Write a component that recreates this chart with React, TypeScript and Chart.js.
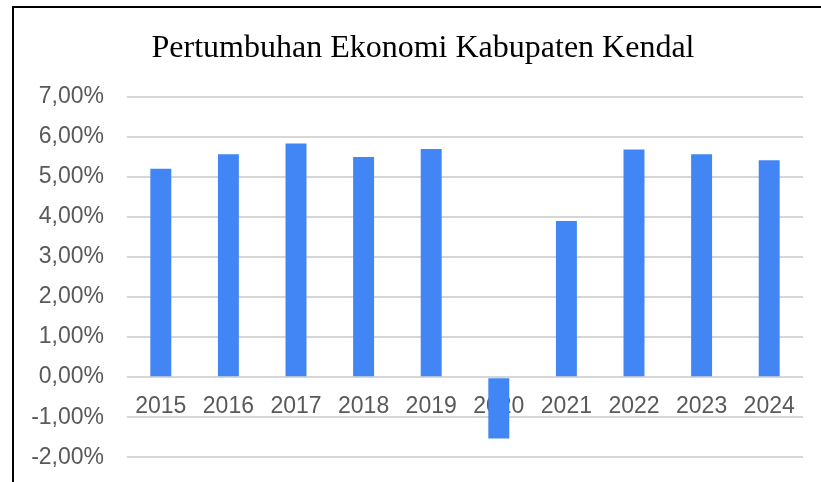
import React, { useEffect, useRef } from "react";
import { Chart, registerables } from "chart.js";

Chart.register(...registerables);

const categories = ["2015", "2016", "2017", "2018", "2019", "2020", "2021", "2022", "2023", "2024"];
const growthValues = [5.21, 5.57, 5.84, 5.5, 5.7, -1.53, 3.9, 5.69, 5.57, 5.42];
const chartTitle = "Pertumbuhan Ekonomi Kabupaten Kendal";
const yMin = -2;
const yMax = 7;
const yStep = 1;

const CANVAS_W = 846;
const CANVAS_H = 494;

export default function App() {
  const canvasRef = useRef<HTMLCanvasElement | null>(null);

  useEffect(() => {
    if (!canvasRef.current) return;
    const chart = new Chart(canvasRef.current, {
      type: "bar",
      data: {
        labels: categories,
        datasets: [
          {
            data: growthValues,
            backgroundColor: "#4285f4",
            borderWidth: 0,
            categoryPercentage: 1,
            barPercentage: 0.31,
            yAxisID: "y",
          },
        ],
      },
      options: {
        animation: false,
        responsive: false,
        devicePixelRatio: 1,
        layout: { padding: { left: 0, right: 0, top: 0, bottom: 14 } },
        plugins: {
          legend: { display: false },
          tooltip: { enabled: false },
          title: {
            display: true,
            text: chartTitle,
            color: "#000000",
            font: { family: "'Liberation Serif', 'Times New Roman', serif", size: 32, weight: "normal", lineHeight: 1.2 },
            padding: { top: 29, bottom: 29.6 },
          },
        },
        scales: {
          x: {
            position: { y: 0 } as any,
            z: 1,
            grid: { display: false },
            border: { display: false },
            ticks: {
              color: "#595959",
              font: { family: "'Liberation Sans', Arial, sans-serif", size: 23 },
              padding: 8,
              autoSkip: false,
              maxRotation: 0,
              minRotation: 0,
            },
            afterFit: (s: any) => {
              s.height = 0;
            },
          },
          y: {
            position: "left",
            min: yMin,
            max: yMax,
            grid: { color: "#d6d6d6", lineWidth: 2, drawTicks: false },
            border: { display: false },
            ticks: {
              stepSize: yStep,
              color: "#595959",
              font: { family: "'Liberation Sans', Arial, sans-serif", size: 23 },
              padding: 23,
              callback: (v: any) => Number(v).toFixed(2).replace(".", ",") + "%",
            },
            afterFit: (s: any) => {
              s.width = 127;
            },
          },
          spacer: {
            type: "linear",
            position: "right",
            display: true,
            grid: { display: false },
            border: { display: false },
            ticks: { display: false },
            afterFit: (s: any) => {
              s.width = 43;
            },
          },
        },
      },
    });
    return () => chart.destroy();
  }, []);

  return (
    <div style={{ position: "fixed", left: 0, top: 0, width: 821, height: 482, overflow: "hidden", background: "#ffffff" }}>
      <canvas
        ref={canvasRef}
        width={CANVAS_W}
        height={CANVAS_H}
        style={{ position: "absolute", left: 0, top: 0, width: CANVAS_W, height: CANVAS_H }}
      />
      <div
        style={{
          position: "absolute",
          left: 12,
          top: 6,
          width: 900,
          height: 600,
          borderLeft: "2px solid #000000",
          borderTop: "2px solid #000000",
          pointerEvents: "none",
        }}
      />
    </div>
  );
}
